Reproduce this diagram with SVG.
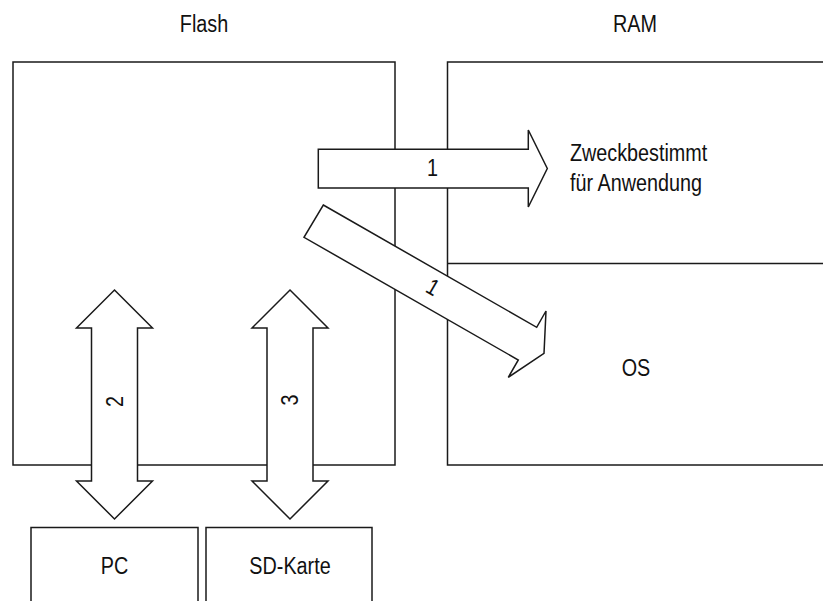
<svg xmlns="http://www.w3.org/2000/svg" width="823" height="601" viewBox="0 0 823 601">
<style>
.box{fill:#fff;stroke:#1a1a1a;stroke-width:1.5}
.arr{fill:#fff;stroke:#1a1a1a;stroke-width:1.5;stroke-linejoin:miter}
.t{font-family:"Liberation Sans",Arial,sans-serif;font-size:23px;fill:#111}
.c{text-anchor:middle}
</style>
<rect width="823" height="601" fill="#fff"/>
<g id="flash-label"><text class="t c" transform="translate(204,32) scale(0.86 1)">Flash</text></g>
<g id="ram-label"><text class="t c" transform="translate(635,32) scale(0.86 1)">RAM</text></g>
<g id="flash"><rect class="box" x="13" y="62" width="382" height="403"/></g>
<g id="ram">
<rect class="box" x="447.5" y="62" width="380" height="403"/>
<line class="box" x1="447.5" y1="263.5" x2="823" y2="263.5"/>
</g>
<g id="app"><text class="t" transform="translate(570,161) scale(0.86 1)">Zweckbestimmt</text><text class="t" transform="translate(570,191) scale(0.86 1)">für Anwendung</text></g>
<g id="os"><text class="t c" transform="translate(636,376) scale(0.86 1)">OS</text></g>
<g id="pc"><rect class="box" x="31" y="527.5" width="167" height="90"/><text class="t c" transform="translate(114.5,574) scale(0.86 1)">PC</text></g>
<g id="sd"><rect class="box" x="206" y="527.5" width="166" height="90"/><text class="t c" transform="translate(290,574) scale(0.86 1)">SD-Karte</text></g>
<g id="connectors">
<g id="arrow1"><polygon class="arr" points="318.3,149.3 528.3,149.3 528.3,130 547.3,168.5 528.3,207 528.3,188 318.3,188"/><text class="t c" transform="translate(432.5,176) scale(0.86 1)">1</text></g>
<g id="arrow1b"><polygon class="arr" points="323.3,205 536.7,327.3 546,311 544,353.3 508.3,377.3 518.3,360 304,237.3"/><text class="t c" transform="translate(433,287) rotate(30) scale(0.86 1)" y="8">1</text></g>
<g id="arrow2"><polygon class="arr" points="114.5,290 152.5,328 137.5,328 137.5,481 152.5,481 114.5,519 76.5,481 91.5,481 91.5,328 76.5,328"/><text class="t c" transform="translate(114.5,401.5) rotate(-90) scale(0.86 1)" y="8">2</text></g>
<g id="arrow3"><polygon class="arr" points="290,290 328,328 313,328 313,481 328,481 290,519 252,481 267,481 267,328 252,328"/><text class="t c" transform="translate(290,400) rotate(-90) scale(0.86 1)" y="8">3</text></g>
</g>
</svg>
